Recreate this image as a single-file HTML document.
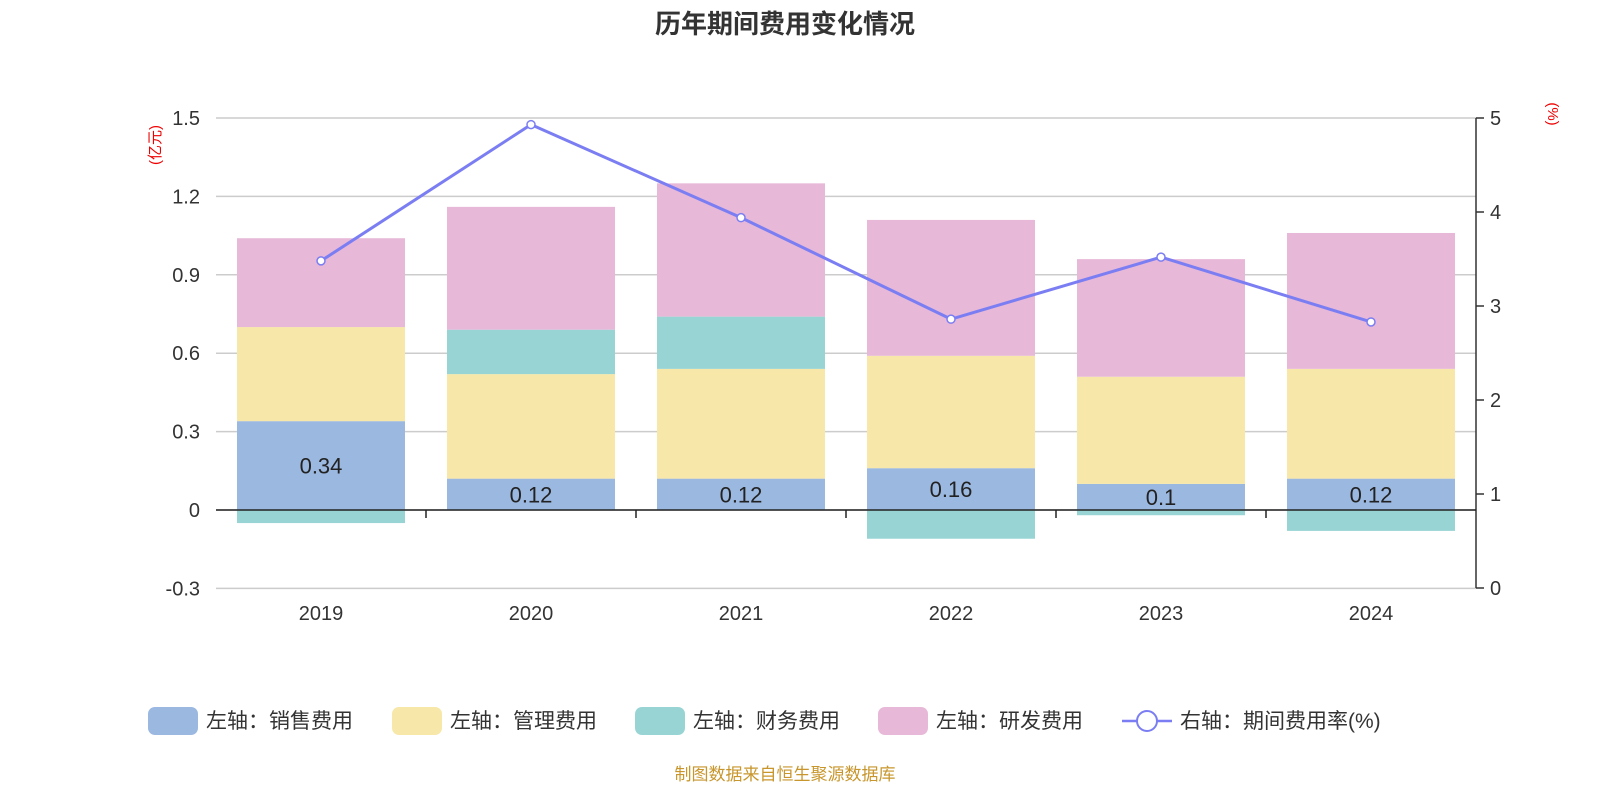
<!DOCTYPE html>
<html><head><meta charset="utf-8"><style>
html,body{margin:0;padding:0;background:#fff;}
svg{display:block;font-family:"Liberation Sans","Noto Sans CJK SC",sans-serif;}
</style></head><body>
<svg id="chart" width="1600" height="800">
<text x="785" y="33" text-anchor="middle" font-size="26" font-weight="bold" fill="#333">历年期间费用变化情况</text>
<text transform="translate(160,145) rotate(-90)" text-anchor="middle" font-size="15" fill="#e00">(亿元)</text>
<text transform="translate(1548,114) rotate(90)" text-anchor="middle" font-size="15" fill="#e00">(%)</text>
<g id="grid"></g><g id="bars"></g><g id="axes"></g><g id="line"></g><g id="legend"></g>
<text x="785" y="780" text-anchor="middle" font-size="17" fill="#c8962c">制图数据来自恒生聚源数据库</text>
</svg>
<script>
const categories=["2019","2020","2021","2022","2023","2024"];
const sales=[0.34,0.12,0.12,0.16,0.10,0.12];
const mgmt=[0.36,0.40,0.42,0.43,0.41,0.42];
const finance=[-0.05,0.17,0.20,-0.11,-0.02,-0.08];
const rnd=[0.34,0.47,0.51,0.52,0.45,0.52];
const rate=[3.48,4.93,3.94,2.86,3.52,2.83];
const leftTicks=[-0.3,0,0.3,0.6,0.9,1.2,1.5];
const rightTicks=[0,1,2,3,4,5];
const NS="http://www.w3.org/2000/svg";
const X0=216,X1=1476,band=(X1-X0)/categories.length,bw=168;
const yL=v=>510-v*261.33, yR=v=>588-v*94;
const xC=i=>X0+band*(i+0.5);
function mk(p,tag,a){const e=document.createElementNS(NS,tag);for(const k in a)e.setAttribute(k,a[k]);p.appendChild(e);return e;}
const grid=document.getElementById('grid'),bars=document.getElementById('bars'),axes=document.getElementById('axes'),line=document.getElementById('line'),leg=document.getElementById('legend');
leftTicks.forEach(t=>{
 const g=mk(grid,'line',{x1:X0,x2:X1,y1:yL(t),y2:yL(t),stroke:'#ccc','stroke-width':1.5});
 
 
 const tx=mk(axes,'text',{x:X0-16,y:yL(t)+7,'text-anchor':'end','font-size':20,fill:'#333'});
 tx.textContent=(t===0?'0':t.toFixed(1));
 
 
});
rightTicks.forEach(t=>{
 mk(axes,'line',{x1:X1,x2:X1+8,y1:yR(t),y2:yR(t),stroke:'#333','stroke-width':1.5});
 const tx=mk(axes,'text',{x:X1+14,y:yR(t)+7,'font-size':20,fill:'#333'});
 tx.textContent=t;
 
 
});
mk(axes,'line',{x1:X1,x2:X1,y1:yR(5),y2:yR(0),stroke:'#333','stroke-width':1.5});
const cols={s:'#9bb8e0',m:'#f7e7a9',f:'#98d4d4',r:'#e7b8d8'};
categories.forEach((c,i)=>{
 const x=xC(i)-bw/2;
 let pos=0,neg=0;
 const seg=(v,col,name)=>{
  let y0,y1;
  if(v>=0){y0=pos;y1=pos+v;pos=y1;}else{y0=neg;y1=neg+v;neg=y1;}
  const r=mk(bars,'rect',{x:x,width:bw,y:Math.min(yL(y0),yL(y1)),height:Math.abs(yL(y0)-yL(y1)),fill:col});
  
  
 };
 seg(sales[i],cols.s,'sales');seg(mgmt[i],cols.m,'mgmt');seg(finance[i],cols.f,'finance');seg(rnd[i],cols.r,'rnd');
 const lb=mk(bars,'text',{x:xC(i),y:(yL(0)+yL(sales[i]))/2+8,'text-anchor':'middle','font-size':22,fill:'#222'});
 lb.textContent=String(sales[i]);
 
 
 const tx=mk(axes,'text',{x:xC(i),y:620,'text-anchor':'middle','font-size':20,fill:'#333'});
 tx.textContent=c;
 
 
});
mk(axes,'line',{x1:X0,x2:X1,y1:yL(0),y2:yL(0),stroke:'#222','stroke-width':1.5});
for(let i=1;i<categories.length;i++)mk(axes,'line',{x1:X0+band*i,x2:X0+band*i,y1:yL(0),y2:yL(0)+8,stroke:'#222','stroke-width':1.5});
const pl=mk(line,'polyline',{points:rate.map((v,i)=>xC(i)+','+yR(v)).join(' '),fill:'none',stroke:'#7b7ef2','stroke-width':3});


rate.forEach((v,i)=>{
 const p=mk(line,'circle',{cx:xC(i),cy:yR(v),r:4,fill:'#fff',stroke:'#7b7ef2','stroke-width':1.5});
 
 
});
const items=[['左轴：销售费用',cols.s,148],['左轴：管理费用',cols.m,392],['左轴：财务费用',cols.f,635],['左轴：研发费用',cols.r,878]];
items.forEach(([t,c,x])=>{
 const r=mk(leg,'rect',{x:x,y:707,width:50,height:28,rx:7,fill:c});
 
 
 const tx=mk(leg,'text',{x:x+58,y:728,'font-size':21,fill:'#333'});
 tx.textContent=t;
 
 
});
mk(leg,'line',{x1:1122,x2:1172,y1:721,y2:721,stroke:'#7b7ef2','stroke-width':2.5});
mk(leg,'circle',{cx:1147,cy:721,r:10,fill:'#fff',stroke:'#7b7ef2','stroke-width':2});
const lt=mk(leg,'text',{x:1180,y:728,'font-size':21,fill:'#333'});
lt.textContent='右轴：期间费用率(%)';


</script>
</body></html>
